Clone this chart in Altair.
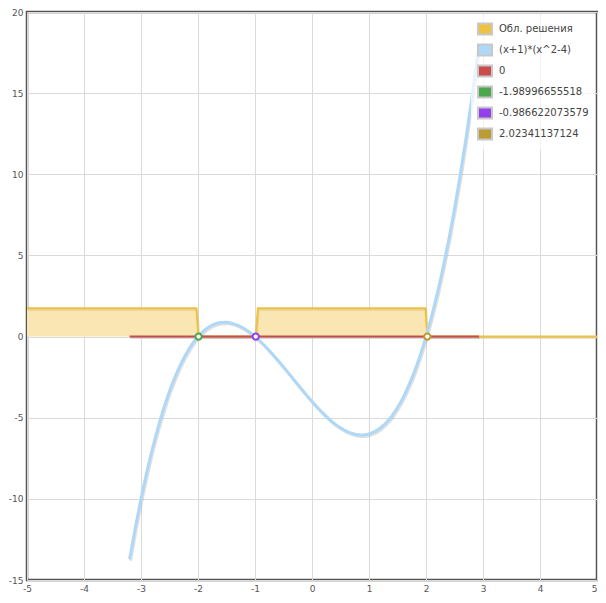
import altair as alt
import pandas as pd

# ---- data ----
curve_x = [-3.2, -3.1, -3.0, -2.9, -2.8, -2.7, -2.6, -2.5, -2.4, -2.3, -2.2, -2.1, -2.0,
           -1.9, -1.8, -1.7, -1.6, -1.5, -1.4, -1.3, -1.2, -1.1, -1.0, -0.9, -0.8, -0.7,
           -0.6, -0.5, -0.4, -0.3, -0.2, -0.1, 0.0, 0.1, 0.2, 0.3, 0.4, 0.5, 0.6, 0.7,
           0.8, 0.9, 1.0, 1.1, 1.2, 1.3, 1.4, 1.5, 1.6, 1.7, 1.8, 1.9, 2.0, 2.1, 2.2,
           2.3, 2.4, 2.5, 2.6, 2.7, 2.8, 2.9, 2.93]
curve_y = [-13.728, -11.781, -10.0, -8.379, -6.912, -5.593, -4.416, -3.375, -2.464, -1.677,
           -1.008, -0.451, 0.0, 0.351, 0.608, 0.777, 0.864, 0.875, 0.816, 0.693, 0.512,
           0.279, 0.0, -0.319, -0.672, -1.053, -1.456, -1.875, -2.304, -2.737, -3.168,
           -3.591, -4.0, -4.389, -4.752, -5.083, -5.376, -5.625, -5.824, -5.967, -6.048,
           -6.061, -6.0, -5.859, -5.632, -5.313, -4.896, -4.375, -3.744, -2.997, -2.128,
           -1.131, 0.0, 1.271, 2.688, 4.257, 5.984, 7.875, 9.936, 12.173, 14.592, 17.199,
           18.019]

zero_x = [-3.2, 2.93]
zero_y = [0.0, 0.0]

region_x = [-5.0, -2.03, -1.99, -0.987, -0.95, 1.99, 2.023, 5.0]
region_y = [1.75, 1.75, 0.0, 0.0, 1.75, 1.75, 0.0, 0.0]

root_x = [-1.98996655518, -0.986622073579, 2.02341137124]
root_y = [0.0, 0.0, 0.0]

legend_names = ["Обл. решения", "(x+1)*(x^2-4)", "0",
                "-1.98996655518", "-0.986622073579", "2.02341137124"]
legend_colors = ["#edc240", "#afd8f8", "#cb4b4b", "#4da74d", "#9440ed", "#bd9b33"]
root_colors = legend_colors[3:]

x_ticks = [-5, -4, -3, -2, -1, 0, 1, 2, 3, 4, 5]
y_ticks = [-15, -10, -5, 0, 5, 10, 15, 20]

curve_df = pd.DataFrame({"x": curve_x, "y": curve_y})
zero_df = pd.DataFrame({"x": zero_x, "y": zero_y})
region_df = pd.DataFrame({"x": region_x, "y": region_y, "y0": [0.0] * len(region_x)})
legend_df = pd.DataFrame({"name": legend_names, "x": [100.0] * 6, "y": [100.0] * 6})

xs = alt.Scale(domain=[-5, 5], nice=False, zero=False)
ys = alt.Scale(domain=[-15, 20], nice=False, zero=False)

X = alt.X("x:Q", scale=xs, axis=alt.Axis(values=x_ticks, title=None, grid=True,
                                           domain=False, ticks=False, labelPadding=4,
                                           labelFontSize=9, labelColor="#555",
                                           labelFont="DejaVu Sans", gridColor="#dadada",
                                           labelFlush=False, labelExpr="datum.value",
                                           labelAlign=alt.condition("datum.value == 5",
                                                                    alt.value("right"),
                                                                    alt.value("center"))))
Y = alt.Y("y:Q", scale=ys, axis=alt.Axis(values=y_ticks, title=None, grid=True,
                                           domain=False, ticks=False, labelPadding=4,
                                           labelFontSize=9, labelColor="#555",
                                           labelFont="DejaVu Sans", gridColor="#dadada",
                                           labelFlush=False, labelExpr="datum.value"))

base_x = alt.X("x:Q", scale=xs)
base_y = alt.Y("y:Q", scale=ys)

area = alt.Chart(region_df).mark_area(fill="#f9e6b3", fillOpacity=1, clip=True).encode(
    x=X, y=Y, y2="y0:Q")
area_shadow = alt.Chart(region_df).mark_line(color="#c8b27a", strokeWidth=2, opacity=0.35,
                                             yOffset=1.5, xOffset=1, clip=True).encode(
    x=base_x, y=base_y)
area_line = alt.Chart(region_df).mark_line(color="#edc240", strokeWidth=2, clip=True).encode(
    x=base_x, y=base_y)

curve_shadow = alt.Chart(curve_df).mark_line(color="#999999", strokeWidth=3, opacity=0.3,
                                             yOffset=1.5, xOffset=1, interpolate="monotone",
                                             clip=True).encode(x=base_x, y=base_y)
curve = alt.Chart(curve_df).mark_line(color="#afd8f8", strokeWidth=3, interpolate="monotone",
                                      clip=True).encode(x=base_x, y=base_y)

zero_shadow = alt.Chart(zero_df).mark_line(color="#999999", strokeWidth=2, opacity=0.35,
                                           yOffset=1.5, xOffset=1).encode(x=base_x, y=base_y)
zero_line = alt.Chart(zero_df).mark_line(color="#cb4b4b", strokeWidth=2).encode(
    x=base_x, y=base_y)

root_layers = []
for rx, ry, rc in zip(root_x, root_y, root_colors):
    rdf = pd.DataFrame({"x": [rx], "y": [ry]})
    root_layers.append(
        alt.Chart(rdf).mark_point(filled=False, fill="white", fillOpacity=1, size=40,
                                  stroke=rc, strokeWidth=2, opacity=1).encode(
            x=base_x, y=base_y))

legend_layer = alt.Chart(legend_df).mark_square(clip=True, opacity=1).encode(
    x=base_x, y=base_y,
    color=alt.Color("name:N", scale=alt.Scale(domain=legend_names, range=legend_colors),
                    legend=alt.Legend(title=None, orient="none", legendX=444, legendY=3,
                                      symbolType="M-1,-0.8H1V0.8H-1Z", symbolSize=196,
                                      symbolStrokeColor="#c8c8c8", symbolStrokeWidth=2,
                                      symbolOpacity=1,
                                      labelFont="DejaVu Sans", labelFontSize=10,
                                      labelColor="#444", labelOffset=6, rowPadding=1,
                                      fillColor="rgba(255,255,255,0.7)", padding=6,
                                      labelLimit=200)))

chart = alt.layer(area, area_shadow, area_line, curve_shadow, curve, zero_shadow, zero_line,
                  *root_layers, legend_layer).properties(
    width=570, height=568,
    autosize=alt.AutoSizeParams(type="none"),
    padding={"left": 19, "top": 4, "right": 1, "bottom": 15},
).configure_view(stroke="#545454", strokeWidth=2.5)

chart.save("out.html", embed_options={"renderer": "svg", "actions": False})
